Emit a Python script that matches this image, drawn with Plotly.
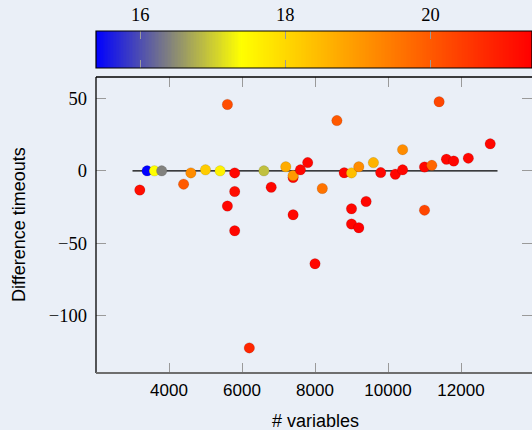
import numpy as np
import plotly.graph_objects as go

# ---- data ----
num_vars = [3200, 3400, 3600, 3800, 4400, 4600, 5000, 5400, 5600, 5800,
            5800, 5600, 5800, 6200, 6600, 6800, 7200, 7400, 7400, 7600,
            7800, 7400, 8000, 8200, 8600, 8800, 9000, 9200, 9600, 9800,
            10200, 10400, 10400, 11000, 11200, 11600, 11800, 12200, 12800, 11400,
            9000, 9400, 11000, 9000, 9200]
diff_timeouts = [-13.3, 0, 0, 0, -9.2, -1.4, 0.7, 0, 46, -1.4,
                 -14.3, -24.4, -41.5, -122.6, 0, -11.3, 2.8, -4.6, -3.2, 0.7,
                 5.7, -30.4, -64.3, -12.2, 34.8, -1.3, -1.4, 2.8, 5.7, -1.2,
                 -2.3, 0.7, 14.7, 2.7, 3.8, 8.0, 6.8, 8.8, 18.7, 47.9,
                 -26.3, -21.2, -27.2, -36.8, -39.4]
color_vals = [21.2, 15.39, 17.4, 16.4, 20.0, 19.2, 18.2, 17.6, 20.2, 21.3,
              21.2, 21.3, 21.3, 20.8, 16.9, 21.3, 18.7, 21.3, 19.0, 21.3,
              21.3, 21.3, 21.3, 19.6, 20.0, 21.3, 18.4, 19.2, 18.6, 21.3,
              21.3, 21.3, 19.2, 21.3, 19.8, 21.3, 21.3, 21.3, 21.3, 20.3,
              21.3, 21.3, 20.3, 21.3, 21.4]

line_x = [3000, 13000]
line_y = [0, 0]

x_ticks = [4000, 6000, 8000, 10000, 12000]
x_tick_text = ["4000", "6000", "8000", "10000", "12000"]
y_ticks = [50, 0, -50, -100]
cbar_ticks = [16, 18, 20]

cmin, cmax = 15.39, 21.40
x_range = [2000, 13945]
y_range = [-140, 65]

colorscale = [[0.0, "rgb(0,0,255)"], [1/3, "rgb(255,255,0)"],
              [2/3, "rgb(255,128,0)"], [1.0, "rgb(255,0,0)"]]

bg = "#eaeff7"
serif = "Liberation Serif"
sans = "Liberation Sans"

grad = np.linspace(cmin, cmax, 300)

fig = go.Figure()

# colour bar strip on its own axis
fig.add_trace(go.Heatmap(z=[grad], x=grad, y=[0], colorscale=colorscale,
                         zmin=cmin, zmax=cmax, showscale=False,
                         xaxis="x2", yaxis="y2", hoverinfo="skip"))

fig.add_trace(go.Scatter(x=line_x, y=line_y, mode="lines",
                         line=dict(color="black", width=1.2),
                         showlegend=False, hoverinfo="skip"))

fig.add_trace(go.Scatter(x=num_vars, y=diff_timeouts, mode="markers",
                         marker=dict(color=color_vals, colorscale=colorscale,
                                     cmin=cmin, cmax=cmax, size=10.5,
                                     line=dict(color="rgba(0,0,0,0.18)", width=0.6)),
                         showlegend=False))

main_top = (373 - 77) / 342
cb_bottom = (373 - 68) / 342

fig.update_layout(
    width=532, height=430,
    margin=dict(l=96, r=0, t=31, b=57),
    paper_bgcolor=bg, plot_bgcolor=bg,
    showlegend=False,
    xaxis=dict(domain=[0, 1], range=x_range, tickvals=x_ticks, ticktext=x_tick_text,
               ticks="inside", ticklen=10, tickcolor="#9a9a9a", tickwidth=1,
               mirror="ticks", showline=False, showgrid=False, zeroline=False,
               tickfont=dict(family=sans, size=17, color="black"),
               ticklabelstandoff=5, anchor="y"),
    yaxis=dict(domain=[0, main_top], range=y_range, tickvals=y_ticks,
               ticks="inside", ticklen=10, tickcolor="#9a9a9a", tickwidth=1,
               mirror="ticks", showline=False, showgrid=False, zeroline=False,
               tickfont=dict(family=serif, size=18.5, color="black"),
               ticklabelstandoff=8, anchor="x"),
    xaxis2=dict(domain=[0, 1], range=[cmin, cmax], tickvals=cbar_ticks,
                side="top", ticks="inside", ticklen=8, tickcolor="#9a9a9a",
                mirror="ticks", showline=False, showgrid=False, zeroline=False,
                tickfont=dict(family=serif, size=18.5, color="black"),
                ticklabelstandoff=5, anchor="y2"),
    yaxis2=dict(domain=[cb_bottom, 1], range=[-0.5, 0.5], visible=False,
                anchor="x2"),
    shapes=[
        dict(type="line", xref="x domain", yref="y domain", x0=0, x1=0, y0=0, y1=1,
             line=dict(color="black", width=1.3)),
        dict(type="line", xref="x domain", yref="y domain", x0=0, x1=1, y0=1, y1=1,
             line=dict(color="black", width=1.3)),
        dict(type="line", xref="x domain", yref="y domain", x0=0, x1=1, y0=0, y1=0,
             line=dict(color="#6e6e6e", width=2)),
        dict(type="rect", xref="x2 domain", yref="y2 domain", x0=0, x1=1, y0=0, y1=1,
             line=dict(color="black", width=1.2)),
    ],
    annotations=[
        dict(text="# variables", xref="paper", yref="paper",
             x=(315 - 96) / 436, y=(373 - 421) / 342, xanchor="center", yanchor="middle",
             showarrow=False, font=dict(family=sans, size=18, color="black")),
        dict(text="Difference timeouts", xref="paper", yref="paper",
             x=(19 - 96) / 436, y=(373 - 225) / 342, xanchor="center", yanchor="middle",
             textangle=-90, showarrow=False, font=dict(family=sans, size=18, color="black")),
    ],
)

fig.write_html("out.html")
